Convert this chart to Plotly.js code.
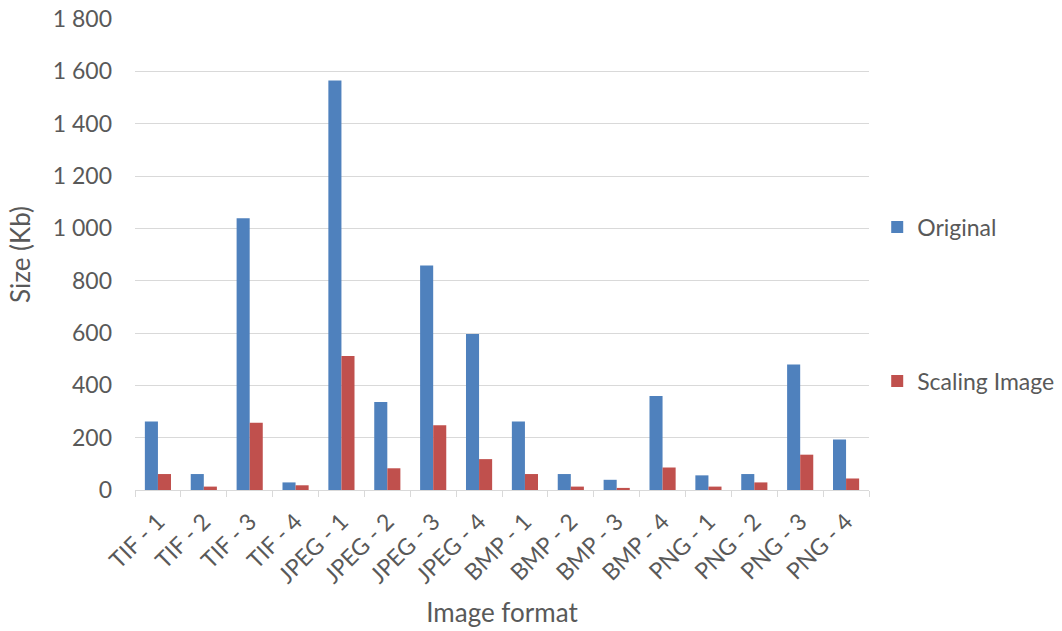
<!DOCTYPE html>
<html>
<head>
<meta charset="utf-8">
<script src="https://cdn.plot.ly/plotly-3.0.1.min.js"></script>
<style>
  html, body { margin: 0; padding: 0; background: #ffffff; }
  #chart { width: 1062px; height: 631px; }
</style>
</head>
<body>
<div id="chart"></div>
<script>
// Image files, grouped by format
const categories = [
  "TIF - 1", "TIF - 2", "TIF - 3", "TIF - 4",
  "JPEG - 1", "JPEG - 2", "JPEG - 3", "JPEG - 4",
  "BMP - 1", "BMP - 2", "BMP - 3", "BMP - 4",
  "PNG - 1", "PNG - 2", "PNG - 3", "PNG - 4"
];

// File sizes in Kb
const originalSizes = [262, 61, 1039, 29, 1565, 336, 858, 596, 262, 61, 39, 359, 56, 61, 480, 193];
const scaledSizes   = [61, 13, 257, 18, 512, 83, 247, 118, 61, 13, 8, 86, 13, 29, 135, 44];

const yTicks = [0, 200, 400, 600, 800, 1000, 1200, 1400, 1600, 1800];

const textColor = "#595959";
const gridColor = "#d9d9d9";
const font = "Lato, 'Open Sans', sans-serif";

const traces = [
  {
    type: "bar",
    name: "Original",
    x: categories,
    y: originalSizes,
    marker: { color: "#4f81bd", line: { width: 0 } },
    legend: "legend"
  },
  {
    type: "bar",
    name: "Scaling Image",
    x: categories,
    y: scaledSizes,
    marker: { color: "#c0504d", line: { width: 0 } },
    legend: "legend2"
  }
];

// Each series gets its own legend box, stacked in the right-hand margin
const legendStyle = {
  xref: "container",
  yref: "container",
  xanchor: "left",
  yanchor: "middle",
  font: { family: font, size: 23, color: textColor },
  bgcolor: "rgba(0,0,0,0)",
  borderwidth: 0
};

const layout = {
  width: 1062,
  height: 631,
  margin: { l: 135, r: 193, t: 19, b: 141 },
  paper_bgcolor: "#ffffff",
  plot_bgcolor: "#ffffff",
  font: { family: font, color: textColor },
  separators: ". ",
  barmode: "group",
  bargap: 0.43,
  bargroupgap: 0,
  xaxis: {
    type: "category",
    tickangle: -45,
    tickson: "boundaries",
    ticks: "outside",
    ticklen: 6,
    tickcolor: gridColor,
    ticklabelstandoff: 8,
    showline: true,
    linecolor: gridColor,
    linewidth: 1,
    showgrid: false,
    tickfont: { family: font, size: 23, color: textColor },
    title: { text: "Image format", font: { family: font, size: 26, color: textColor }, standoff: 16 }
  },
  yaxis: {
    range: [0, 1800],
    tickvals: yTicks,
    separatethousands: true,
    showgrid: true,
    gridcolor: gridColor,
    gridwidth: 1,
    zeroline: false,
    showline: false,
    ticks: "",
    ticklabelstandoff: 22,
    tickfont: { family: font, size: 23, color: textColor },
    title: { text: "Size (Kb)", font: { family: font, size: 26, color: textColor }, standoff: 14 }
  },
  showlegend: true,
  legend: Object.assign({ x: 0.826, y: 0.640 }, legendStyle),
  legend2: Object.assign({ x: 0.826, y: 0.396 }, legendStyle)
};

Plotly.newPlot("chart", traces, layout, { displayModeBar: false, staticPlot: true });
</script>
</body>
</html>
